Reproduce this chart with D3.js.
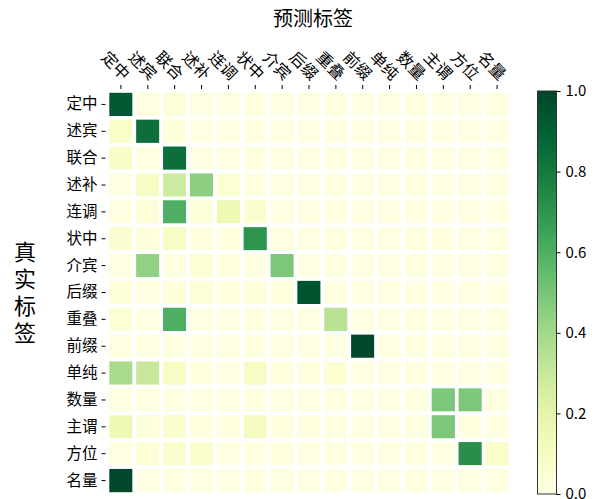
<!DOCTYPE html>
<html><head><meta charset="utf-8">
<script src="https://cdn.jsdelivr.net/npm/d3@7"></script>
<style>body{margin:0;background:#fff}svg{display:block}text{font-family:"Noto Sans CJK SC","Noto Sans",sans-serif;fill:#000}</style>
</head><body><svg id="c" width="594" height="499"></svg>
<script>
const labels = ["定中","述宾","联合","述补","连调","状中","介宾","后缀","重叠","前缀","单纯","数量","主谓","方位","名量"];
const colorTicks = [0, 0.2, 0.4, 0.6, 0.8, 1.0];
const values = [
 [0.93,0.02,0.04,0.01,0.01,0.01,0.01,0.01,0.01,0.01,0.01,0.01,0.01,0.01,0.01],
 [0.08,0.84,0.03,0.01,0.01,0.01,0.01,0.01,0.01,0.01,0.01,0.01,0.01,0.01,0.01],
 [0.09,0.02,0.84,0.01,0.01,0.02,0.01,0.01,0.01,0.01,0.01,0.01,0.01,0.01,0.01],
 [0.01,0.10,0.28,0.45,0.05,0.02,0.01,0.01,0.01,0.01,0.01,0.01,0.01,0.01,0.01],
 [0.01,0.04,0.60,0.03,0.15,0.07,0.01,0.01,0.01,0.01,0.01,0.01,0.01,0.01,0.01],
 [0.06,0.03,0.10,0.02,0.02,0.70,0.01,0.01,0.01,0.01,0.01,0.02,0.02,0.01,0.01],
 [0.01,0.44,0.01,0.05,0.02,0.01,0.49,0.01,0.01,0.01,0.01,0.01,0.01,0.01,0.01],
 [0.03,0.02,0.03,0.04,0.02,0.03,0.02,0.95,0.01,0.01,0.01,0.01,0.01,0.01,0.01],
 [0.05,0.02,0.60,0.01,0.01,0.01,0.01,0.01,0.34,0.01,0.01,0.01,0.01,0.01,0.01],
 [0.01,0.01,0.01,0.01,0.01,0.01,0.01,0.01,0.01,0.99,0.01,0.01,0.01,0.01,0.01],
 [0.38,0.30,0.10,0.02,0.01,0.10,0.02,0.02,0.05,0.01,0.01,0.01,0.01,0.01,0.01],
 [0.01,0.01,0.01,0.01,0.01,0.01,0.01,0.01,0.01,0.01,0.01,0.01,0.49,0.49,0.02],
 [0.15,0.03,0.07,0.02,0.02,0.11,0.02,0.02,0.01,0.01,0.01,0.01,0.49,0.02,0.02],
 [0.01,0.05,0.07,0.07,0.01,0.01,0.02,0.01,0.01,0.01,0.01,0.01,0.01,0.72,0.08],
 [0.99,0.01,0.01,0.01,0.01,0.01,0.01,0.01,0.01,0.01,0.01,0.01,0.01,0.01,0.01]
];

const svg = d3.select("#c");
const gx0 = 107.5, gx1 = 510.5, gy0 = 91, gy1 = 494;
const x = d3.scaleBand().domain(labels).range([gx0, gx1]);
const y = d3.scaleBand().domain(labels).range([gy0, gy1]);
const color = d3.scaleSequential(d3.interpolateYlGn).domain([0, 1]);

const cells = [];
values.forEach((row, i) => row.forEach((v, j) => cells.push({r: labels[i], c: labels[j], v})));
svg.append("g").selectAll("rect").data(cells).join("rect")
  .attr("x", d => x(d.c)).attr("y", d => y(d.r))
  .attr("width", x.bandwidth()).attr("height", y.bandwidth())
  .attr("fill", d => color(d.v))
  .attr("stroke", "#fff").attr("stroke-width", 3.6);

// top axis
const xa = svg.append("g").attr("transform", `translate(0,${gy0 - 2})`)
  .call(d3.axisTop(x).tickSize(4).tickSizeOuter(0));
xa.select(".domain").remove();
xa.selectAll(".tick line").attr("stroke", "#000");
xa.selectAll(".tick text")
  .attr("font-size", 16).attr("text-anchor", "end")
  .attr("dy", 0).attr("y", 0)
  .attr("transform", "translate(2,-8) rotate(45)");

// left axis
const ya = svg.append("g").attr("transform", `translate(${gx0 - 2},0)`)
  .call(d3.axisLeft(y).tickSize(4).tickSizeOuter(0));
ya.select(".domain").remove();
ya.selectAll(".tick line").attr("stroke", "#000");
ya.selectAll(".tick text").attr("font-size", 15.5).attr("x", -8);

// titles
svg.append("text").attr("x", 313).attr("y", 26).attr("text-anchor", "middle")
  .attr("font-size", 20).text("预测标签");
svg.append("text").attr("x", 25).attr("y", 241)
  .style("writing-mode", "vertical-rl").style("text-orientation", "upright")
  .attr("letter-spacing", 5).attr("font-size", 22).text("真实标签");

// colorbar
const cbx = 537.5, cbw = 19, cby0 = 91, cby1 = 494;
const defs = svg.append("defs");
const grad = defs.append("linearGradient").attr("id", "g").attr("x1", 0).attr("y1", 1).attr("x2", 0).attr("y2", 0);
d3.range(0, 1.0001, 0.05).forEach(t => grad.append("stop").attr("offset", t).attr("stop-color", color(t)));
svg.append("rect").attr("x", cbx).attr("y", cby0).attr("width", cbw).attr("height", cby1 - cby0)
  .attr("fill", "url(#g)").attr("stroke", "#333").attr("stroke-width", 1);
const cs = d3.scaleLinear().domain([0, 1]).range([cby1, cby0]);
const ca = svg.append("g").attr("transform", `translate(${cbx + cbw},0)`)
  .call(d3.axisRight(cs).tickValues(colorTicks).tickFormat(d3.format(".1f")).tickSize(4));
ca.select(".domain").remove();
ca.selectAll(".tick text").attr("font-size", 15).attr("x", 9);
</script></body></html>
